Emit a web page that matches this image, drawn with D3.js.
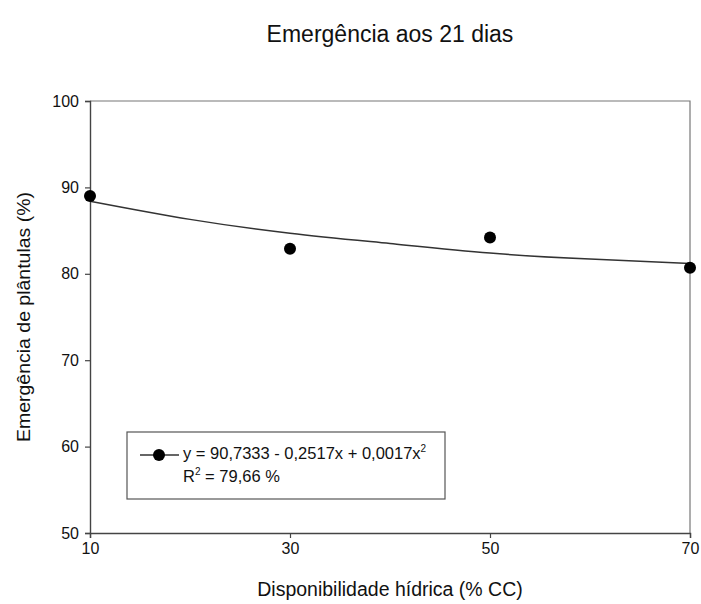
<!DOCTYPE html>
<html>
<head>
<meta charset="utf-8">
<script src="https://cdn.jsdelivr.net/npm/d3@7"></script>
<style>
  body { margin: 0; background: #fff; }
  text { font-family: "Liberation Sans", Arial, sans-serif; fill: #111; }
</style>
</head>
<body>
<div id="chart"></div>
<script>
// Data
const waterLevels = [10, 30, 50, 70];
const emergence = [89.0, 82.9, 84.2, 80.7];
// fitted curve
const fitX = [10, 20, 30, 40, 50, 60, 70];
const fitY = [88.4, 86.3, 84.7, 83.5, 82.4, 81.7, 81.2];
const xTicks = [10, 30, 50, 70];
const yTicks = [50, 60, 70, 80, 90, 100];

const WIDTH = 701, HEIGHT = 604;
const margin = { left: 90, top: 101, right: 11, bottom: 71 };

const svg = d3.select("#chart").append("svg")
  .attr("width", WIDTH)
  .attr("height", HEIGHT);

const x = d3.scaleLinear().domain([10, 70]).range([margin.left, WIDTH - margin.right]);
const y = d3.scaleLinear().domain([50, 100]).range([HEIGHT - margin.bottom, margin.top]);

// frame (top + right)
svg.append("path")
  .attr("d", `M${x(10)},${y(100)}H${x(70)}V${y(50)}`)
  .attr("fill", "none")
  .attr("stroke", "#777")
  .attr("stroke-width", 1.2);

// axes
const xAxis = svg.append("g")
  .attr("transform", `translate(0,${y(50)})`)
  .call(d3.axisBottom(x).tickValues(xTicks).tickSize(5).tickPadding(5));
const yAxis = svg.append("g")
  .attr("transform", `translate(${x(10)},0)`)
  .call(d3.axisLeft(y).tickValues(yTicks).tickSize(5).tickPadding(6));

[xAxis, yAxis].forEach((g) => {
  g.select(".domain").attr("stroke", "#444").attr("stroke-width", 1.4);
  g.selectAll(".tick line").attr("stroke", "#444").attr("stroke-width", 1.2);
  g.selectAll(".tick text")
    .attr("font-size", 16)
    .attr("font-family", "Liberation Sans, Arial, sans-serif")
    .attr("fill", "#111");
});

// fitted line
const line = d3.line()
  .curve(d3.curveNatural)
  .x((d, i) => x(fitX[i]))
  .y((d) => y(d));

svg.append("path")
  .attr("d", line(fitY))
  .attr("fill", "none")
  .attr("stroke", "#333")
  .attr("stroke-width", 1.5);

// observed points
svg.selectAll(".pt")
  .data(emergence)
  .enter()
  .append("circle")
  .classed("pt", true)
  .attr("cx", (d, i) => x(waterLevels[i]))
  .attr("cy", (d) => y(d))
  .attr("r", 6)
  .attr("fill", "#000");

// legend
const legend = svg.append("g").attr("transform", "translate(127,432)");
legend.append("rect")
  .attr("width", 318)
  .attr("height", 67)
  .attr("fill", "#fff")
  .attr("stroke", "#555")
  .attr("stroke-width", 1.2);
legend.append("line")
  .attr("x1", 13).attr("x2", 52)
  .attr("y1", 23).attr("y2", 23)
  .attr("stroke", "#333")
  .attr("stroke-width", 1.5);
legend.append("circle")
  .attr("cx", 32).attr("cy", 23).attr("r", 6)
  .attr("fill", "#000");

const eq = legend.append("text")
  .attr("x", 56).attr("y", 27)
  .attr("font-size", 16.5);
eq.append("tspan").text("y = 90,7333 - 0,2517x + 0,0017x");
eq.append("tspan").attr("font-size", 10).attr("dy", -7).text("2");

const r2 = legend.append("text")
  .attr("x", 56).attr("y", 50)
  .attr("font-size", 16.5);
r2.append("tspan").text("R");
r2.append("tspan").attr("font-size", 10).attr("dy", -7).text("2");
r2.append("tspan").attr("dy", 7).text(" = 79,66 %");

// titles
svg.append("text")
  .attr("x", (x(10) + x(70)) / 2)
  .attr("y", 42)
  .attr("text-anchor", "middle")
  .attr("font-size", 23)
  .text("Emergência aos 21 dias");

svg.append("text")
  .attr("x", (x(10) + x(70)) / 2)
  .attr("y", 596)
  .attr("text-anchor", "middle")
  .attr("font-size", 19.5)
  .text("Disponibilidade hídrica (% CC)");

svg.append("text")
  .attr("transform", `translate(30,${(y(50) + y(100)) / 2}) rotate(-90)`)
  .attr("text-anchor", "middle")
  .attr("font-size", 19)
  .attr("textLength", 250)
  .attr("lengthAdjust", "spacingAndGlyphs")
  .text("Emergência de plântulas (%)");
</script>
</body>
</html>
